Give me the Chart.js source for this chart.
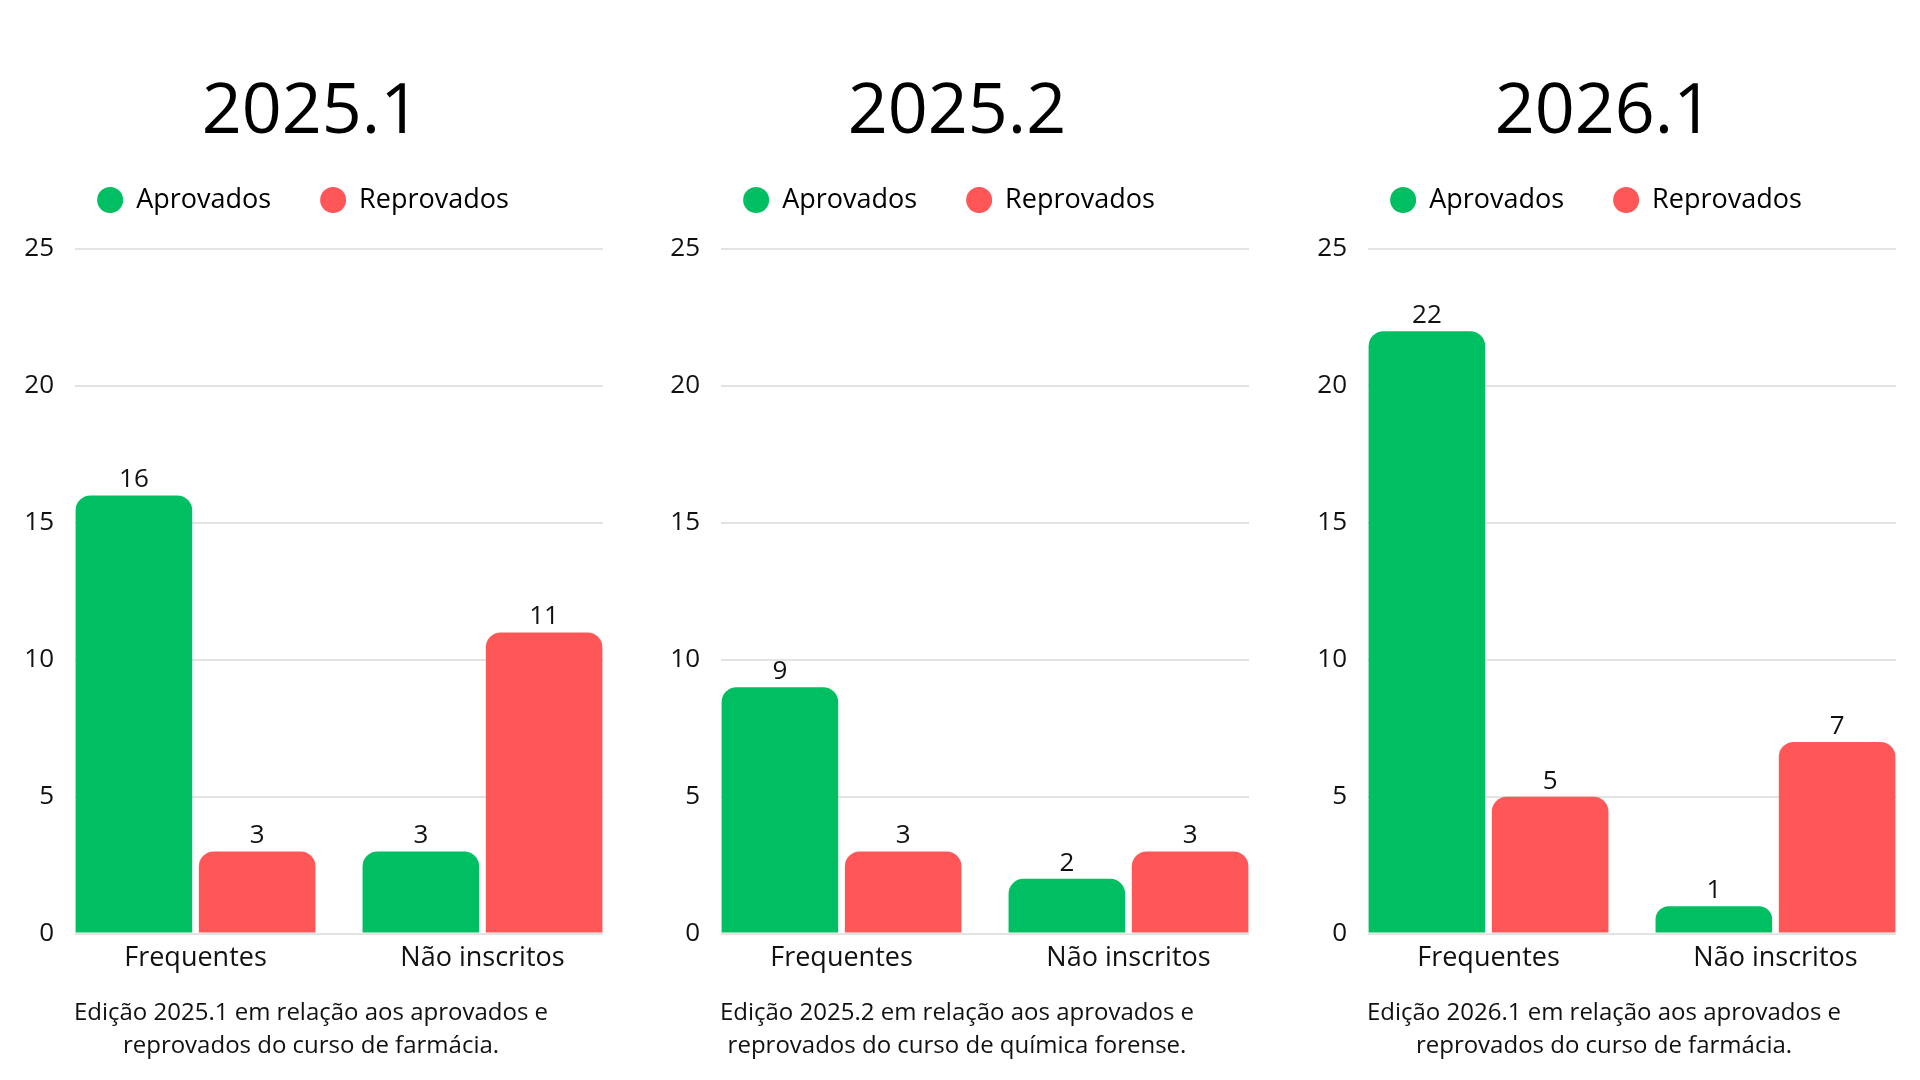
<!DOCTYPE html>
<html lang="pt-BR">

<head>
    <meta charset="UTF-8">
    <title>Aprovados e reprovados por edição</title>
    <script src="https://cdn.jsdelivr.net/npm/chart.js"></script>
    <style>
        body {
            margin: 0;
            background: #ffffff;
        }

        .painel {
            position: absolute;
            top: 0;
            width: 620px;
            height: 1080px;
        }
    </style>
</head>

<body>
    <div class="painel" style="left: 0px;"><canvas id="grafico1"></canvas></div>
    <div class="painel" style="left: 646px;"><canvas id="grafico2"></canvas></div>
    <div class="painel" style="left: 1293px;"><canvas id="grafico3"></canvas></div>

    <script>
        // dados
        const categorias = ['Frequentes', 'Não inscritos'];
        const series = ['Aprovados', 'Reprovados'];
        const marcasY = [0, 5, 10, 15, 20, 25];

        const aprovados_2025_1 = [16, 3];
        const reprovados_2025_1 = [3, 11];
        const aprovados_2025_2 = [9, 2];
        const reprovados_2025_2 = [3, 3];
        const aprovados_2026_1 = [22, 1];
        const reprovados_2026_1 = [5, 7];

        const legenda_2025_1 = ['Edição 2025.1 em relação aos aprovados e', 'reprovados do curso de farmácia.'];
        const legenda_2025_2 = ['Edição 2025.2 em relação aos aprovados e', 'reprovados do curso de química forense.'];
        const legenda_2026_1 = ['Edição 2026.1 em relação aos aprovados e', 'reprovados do curso de farmácia.'];

        const corVerde = '#00BF63';
        const corVermelha = '#FF5757';

        Chart.defaults.font.family = "'Open Sans', sans-serif";
        Chart.defaults.color = '#000000';

        // legenda desenhada à mão para ter o espaçamento do original
        const legendaManual = {
            id: 'legendaManual',
            afterDraw(chart) {
                const ctx = chart.ctx;
                const ds = chart.data.datasets;
                const raio = 13, distTexto = 26, espaco = 49;
                ctx.save();
                ctx.font = "27px 'Open Sans'";
                const larguras = ds.map(d => ctx.measureText(d.label).width);
                let total = 0;
                for (let i = 0; i < ds.length; i++) {
                    total += raio + distTexto + larguras[i];
                    if (i < ds.length - 1) total += espaco;
                }
                let x = chart.chartArea.left + 228 - total / 2;
                const y = 200;
                for (let i = 0; i < ds.length; i++) {
                    ctx.fillStyle = ds[i].backgroundColor;
                    ctx.beginPath();
                    ctx.arc(x + raio, y, raio, 0, Math.PI * 2);
                    ctx.fill();
                    ctx.fillStyle = '#000000';
                    ctx.textAlign = 'left';
                    ctx.textBaseline = 'middle';
                    ctx.fillText(ds[i].label, x + raio + distTexto, y);
                    x += raio + distTexto + larguras[i] + espaco;
                }
                ctx.restore();
            }
        };

        // valor em cima de cada barra
        const rotulosValores = {
            id: 'rotulosValores',
            afterDatasetsDraw(chart) {
                const ctx = chart.ctx;
                ctx.save();
                ctx.font = "26px 'Open Sans'";
                ctx.fillStyle = '#111111';
                ctx.textAlign = 'center';
                ctx.textBaseline = 'alphabetic';
                chart.data.datasets.forEach((ds, i) => {
                    chart.getDatasetMeta(i).data.forEach((barra, j) => {
                        ctx.fillText(ds.data[j].y, barra.x, barra.y - 8);
                    });
                });
                ctx.restore();
            }
        };

        function pontos(valores) {
            return valores.map((v, i) => ({ x: i, y: v }));
        }

        function criarGrafico(idCanvas, edicao, aprovados, reprovados, legenda) {
            const ctx = document.getElementById(idCanvas);

            new Chart(ctx, {
                type: 'bar',
                data: {
                    datasets: [{
                        label: series[0],
                        data: pontos(aprovados),
                        backgroundColor: corVerde,
                        borderRadius: 15
                    }, {
                        label: series[1],
                        data: pontos(reprovados),
                        backgroundColor: corVermelha,
                        borderRadius: 15
                    }]
                },
                options: {
                    responsive: true,
                    maintainAspectRatio: false,
                    animation: false,
                    categoryPercentage: 0.859,
                    barPercentage: 0.946,
                    layout: {
                        padding: { left: 19, right: 17, top: 0, bottom: 0 }
                    },
                    plugins: {
                        legend: { display: false },
                        tooltip: { enabled: false },
                        title: {
                            display: true,
                            text: edicao,
                            color: '#000000',
                            font: { size: 70, weight: 'normal' },
                            padding: { top: 71, bottom: 94 }
                        },
                        subtitle: {
                            display: true,
                            position: 'bottom',
                            text: legenda,
                            color: '#111111',
                            font: { size: 24, weight: 'normal', lineHeight: 33 / 24 },
                            padding: { top: 13, bottom: 17 }
                        }
                    },
                    scales: {
                        x: {
                            type: 'linear',
                            min: -0.42,
                            max: 1.42,
                            offset: false,
                            grid: { display: false, drawTicks: false, offset: false },
                            border: { display: false },
                            afterBuildTicks(scale) {
                                scale.ticks = categorias.map((c, i) => ({ value: i }));
                            },
                            ticks: {
                                font: { size: 27 },
                                color: '#111111',
                                padding: 9,
                                maxRotation: 0,
                                callback: (valor) => categorias[valor]
                            }
                        },
                        y: {
                            min: 0,
                            max: 25,
                            grid: { color: '#e3e3e3', lineWidth: 2, drawTicks: false },
                            border: { display: false },
                            afterBuildTicks(scale) {
                                scale.ticks = marcasY.map(v => ({ value: v }));
                            },
                            afterFit(scale) {
                                scale.width = 56;
                            },
                            ticks: {
                                font: { size: 26 },
                                color: '#111111',
                                padding: 21
                            }
                        }
                    }
                },
                plugins: [legendaManual, rotulosValores]
            });
        }

        criarGrafico('grafico1', '2025.1', aprovados_2025_1, reprovados_2025_1, legenda_2025_1);
        criarGrafico('grafico2', '2025.2', aprovados_2025_2, reprovados_2025_2, legenda_2025_2);
        criarGrafico('grafico3', '2026.1', aprovados_2026_1, reprovados_2026_1, legenda_2026_1);
    </script>
</body>

</html>
